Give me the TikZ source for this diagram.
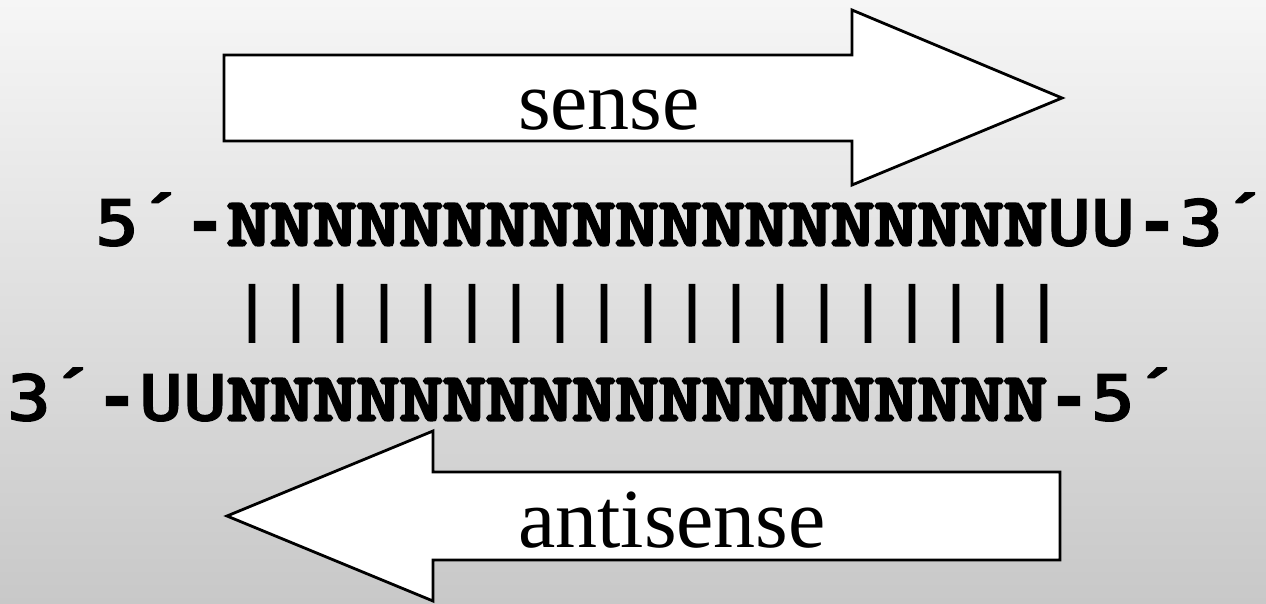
\documentclass[tikz,border=0pt]{standalone}
\usepackage{fontspec}
\setmainfont{Liberation Serif}
\newfontfamily\nfont{Latin Modern Mono}[FakeBold=5]
\newfontfamily\sfont{DejaVu Sans Mono}[FakeBold=3.5]
\newfontfamily\lfont{Liberation Mono}[FakeBold=2]
\definecolor{bgtop}{HTML}{F6F6F6}
\definecolor{bgbot}{HTML}{C8C8C8}
\newcommand\sq[1]{\makebox[44pt][c]{\sfont\fontsize{62}{70}\selectfont\scalebox{1.15}[1]{#1}}}
\newcommand\mq[2][44pt]{\makebox[#1][c]{\lfont\bfseries\fontsize{73.3}{80}\selectfont #2}}
\newcommand\nseq[1]{\scalebox{1}[0.8]{\nfont\fontsize{83.8}{90}\selectfont #1}}
\newcommand\bq{\makebox[44pt][c]{\sfont\fontsize{57}{60}\selectfont |}}
\begin{document}
\begin{tikzpicture}[x=1pt,y=-1pt,
  bigarrow/.style={draw=black,line width=2.8pt,fill=white,line join=miter},
  lbl/.style={anchor=base west,inner sep=0pt,outer sep=0pt,font=\fontsize{84}{90}\selectfont},
  seq/.style={anchor=base west,inner sep=0pt,outer sep=0pt}]
\useasboundingbox (0,0) rectangle (1266,604);
\shade[top color=bgtop,bottom color=bgbot] (0,0) rectangle (1266,604);
\draw[bigarrow] (224,55) -- (852,55) -- (852,10) -- (1062,98) -- (852,185) -- (852,141) -- (224,141) -- cycle;
\draw[bigarrow] (1060,472) -- (433,472) -- (433,431) -- (227,516) -- (433,601) -- (433,560) -- (1060,560) -- cycle;
\node[lbl] (sense) at (518,130) {sense};
\node[lbl] (antisense) at (518,547) {antisense};
\node[seq] (top) at (95,245) {\sq{5}\mq{´}\mq{-}\nseq{NNNNNNNNNNNNNNNNNNN}\sq{U}\sq{U}\mq{-}\sq{3}\mq{´}};
\node[seq] (bars) at (230,328.5) {\bq\bq\bq\bq\bq\bq\bq\bq\bq\bq\bq\bq\bq\bq\bq\bq\bq\bq\bq};
\node[seq] (bottom) at (7,420) {\sq{3}\mq{´}\mq{-}\sq{U}\sq{U}\nseq{NNNNNNNNNNNNNNNNNNN}\mq{-}\sq{5}\mq{´}};
\end{tikzpicture}
\end{document}
